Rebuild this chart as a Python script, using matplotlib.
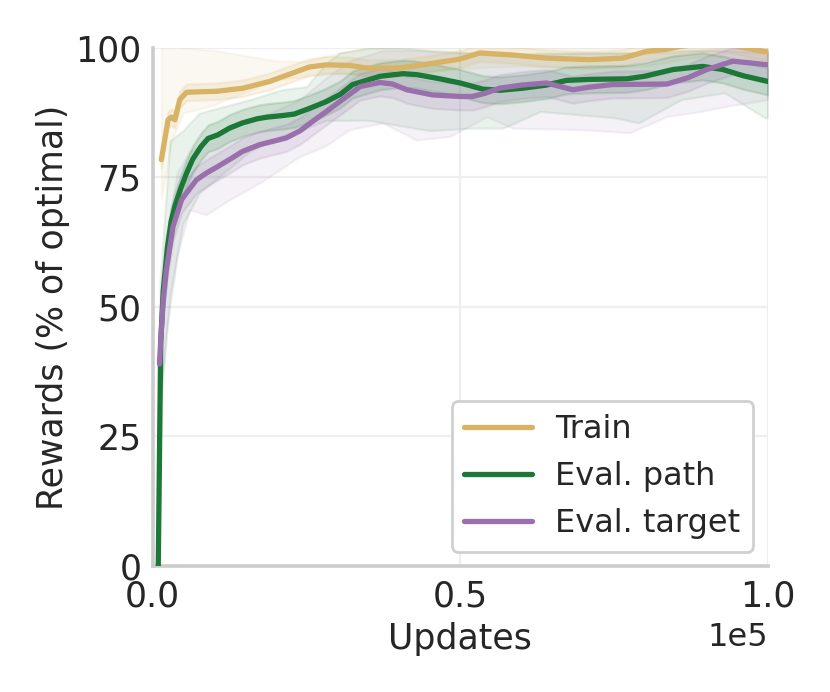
import numpy as np
import matplotlib
matplotlib.use("Agg")
import matplotlib.pyplot as plt
import seaborn as sns

# ---------------- data (x in thousands of updates) ----------------
train_x = [1.4, 2.5, 3.0, 3.6, 4.4, 5.5, 7.5, 10.4, 14.7, 19.0, 23.4, 25.5, 28.2, 32.0,
           34.7, 40.2, 45.5, 49.9, 53.2, 58.5, 64.0, 71.0, 76.4, 80.3, 83.5, 86.0, 90.0,
           94.0, 97.0, 100.0]
train_y = [78.4, 86.1, 86.6, 86.1, 90.0, 91.4, 91.5, 91.6, 92.2, 93.5, 95.4, 96.3, 96.7, 96.6,
           96.1, 96.1, 97.0, 97.8, 99.0, 98.6, 98.0, 97.7, 98.0, 99.3, 99.7, 100.3, 100.8,
           100.6, 99.8, 99.2]

path_x = [0.9, 1.3, 1.7, 2.4, 3.0, 3.6, 4.6, 5.5, 6.5, 7.9, 9.0, 10.6, 12.5, 14.6, 17.0,
          18.5, 21.0, 23.0, 25.5, 28.2, 30.5, 32.5, 35.0, 37.0, 40.7, 43.0, 46.7, 50.0,
          53.7, 56.5, 60.2, 64.0, 67.3, 71.0, 77.1, 80.0, 84.6, 89.4, 92.7, 96.0, 100.0]
path_y = [0.0, 43.0, 53.0, 61.6, 66.5, 69.4, 73.0, 75.8, 78.5, 81.0, 82.5, 83.2, 84.5, 85.5,
          86.3, 86.6, 86.9, 87.2, 88.3, 89.6, 91.0, 92.9, 93.8, 94.5, 95.0, 94.8, 94.0, 93.2,
          92.0, 91.8, 92.2, 92.8, 93.7, 93.9, 94.0, 94.5, 95.8, 96.4, 95.8, 94.6, 93.5]

target_x = [1.1, 1.3, 1.7, 2.2, 3.3, 4.7, 5.5, 7.1, 8.7, 10.6, 13.0, 14.6, 17.4, 21.7, 24.0,
            26.0, 28.0, 30.4, 33.7, 36.9, 39.0, 41.3, 45.5, 49.9, 52.0, 54.0, 56.4, 60.0,
            64.0, 68.3, 71.0, 74.8, 83.6, 87.0, 90.1, 94.3, 97.0, 100.0]
target_y = [39.0, 43.6, 51.0, 57.0, 65.5, 70.7, 72.0, 74.5, 75.8, 77.1, 78.8, 80.0, 81.3, 82.6,
            84.0, 85.8, 87.5, 89.6, 92.5, 93.3, 93.0, 91.9, 90.9, 90.6, 90.6, 91.2, 92.2, 92.8,
            93.2, 91.9, 92.4, 92.9, 93.0, 94.2, 95.8, 97.4, 97.1, 96.7]

# outer (min/max) bands
train_band_x = [1.4, 2.2, 3.0, 5.0, 10.0, 20.0, 25.0, 30.0, 40.0, 50.0, 60.0, 70.0, 80.0, 90.0, 100.0]
train_band_lo = [71.0, 76.0, 82.0, 87.4, 89.0, 93.8, 94.5, 95.0, 95.0, 96.0, 96.5, 96.0, 96.5, 98.5, 97.5]
train_band_hi = [101.0, 101.0, 101.0, 100.0, 99.5, 97.5, 97.3, 99.0, 100.5, 101.0, 101.0, 101.0, 101.0, 102.0, 101.0]

path_band_x = [0.9, 1.2, 2.8, 4.9, 7.6, 15.8, 21.0, 25.0, 28.2, 30.4, 35.0, 40.0, 45.0, 52.0,
               57.0, 63.0, 75.0, 79.0, 86.0, 93.0, 99.5, 100.0]
path_band_lo = [0.0, 30.0, 52.0, 66.0, 72.0, 80.0, 83.0, 84.5, 86.0, 86.0, 86.0, 85.0, 84.0,
                84.5, 84.5, 87.7, 86.5, 85.5, 90.0, 91.3, 86.5, 86.5]
path_band_hi = [0.0, 55.0, 82.0, 84.0, 87.4, 90.0, 91.9, 92.5, 97.0, 99.0, 100.0, 100.0, 99.5,
                99.0, 98.5, 99.0, 99.0, 99.0, 99.5, 99.5, 99.0, 99.0]

target_band_x = [1.1, 2.2, 4.0, 6.0, 8.7, 12.5, 17.4, 23.9, 28.0, 32.0, 37.4, 42.9, 48.3, 54.3,
                 58.5, 69.4, 77.6, 83.5, 89.0, 93.3, 100.0]
target_band_lo = [30.0, 45.0, 60.0, 68.7, 67.8, 70.7, 73.9, 79.0, 81.0, 84.2, 85.5, 82.2, 82.9,
                  86.7, 84.5, 84.2, 83.6, 86.7, 87.7, 88.7, 90.0]
target_band_hi = [45.0, 64.0, 76.0, 80.0, 82.0, 85.0, 86.5, 90.0, 94.0, 97.5, 99.5, 99.5, 99.0,
                  99.0, 98.5, 99.0, 99.0, 99.0, 99.5, 100.0, 99.5]

# inner band half-widths (std-like)
train_sd = 1.6
path_sd = 2.6
target_sd = 2.6

labels = ["Train", "Eval. path", "Eval. target"]
colors = ["#d8b365", "#1b7837", "#9970ab"]

# ---------------- plot ----------------
sns.set_theme(style="whitegrid")
plt.rcParams['font.family'] = ['DejaVu Sans']
FS = 12.5
LFS = 11.5
plt.rcParams['font.size'] = FS

fig = plt.figure(figsize=(4.15, 3.46), dpi=200)
ax = fig.add_axes([0.184, 0.182, 0.741, 0.749])

series = [
    (train_x, train_y, train_band_x, train_band_lo, train_band_hi, train_sd),
    (path_x, path_y, path_band_x, path_band_lo, path_band_hi, path_sd),
    (target_x, target_y, target_band_x, target_band_lo, target_band_hi, target_sd),
]

for (x, y, bx, blo, bhi, sd), c in zip(series, colors):
    x = np.asarray(x) * 1000
    y = np.asarray(y)
    bx = np.asarray(bx) * 1000
    ax.fill_between(bx, blo, bhi, color=c, alpha=0.09, linewidth=0.8,
                    edgecolor=c, zorder=1)
    ax.fill_between(x, y - sd, y + sd, color=c, alpha=0.15, linewidth=0.8,
                    edgecolor=c, zorder=2)

for (x, y, *_), c, lab in zip(series, colors, labels):
    x = np.asarray(x) * 1000
    ax.plot(x, y, color=c, lw=1.9, label=lab, zorder=3,
            solid_capstyle='round', solid_joinstyle='round')

ax.set_xlim(0, 1e5)
ax.set_ylim(0, 100)
ax.set_xticks([0, 5e4, 1e5])
ax.set_yticks([0, 25, 50, 75, 100])
ax.ticklabel_format(axis='x', style='sci', scilimits=(0, 0))
ax.xaxis.get_offset_text().set_fontsize(LFS)
ax.set_xlabel("Updates", fontsize=FS, labelpad=3)
ax.set_ylabel("Rewards (% of optimal)", fontsize=FS, labelpad=2)
ax.tick_params(axis='x', labelsize=FS, pad=5, length=0)
ax.tick_params(axis='y', labelsize=FS, pad=4, length=0)
ax.grid(True, color="#efefef", linewidth=0.8)
for s in ["top", "right"]:
    ax.spines[s].set_visible(False)
for s in ["left", "bottom"]:
    ax.spines[s].set_color("#cccccc")
    ax.spines[s].set_linewidth(1.3)

leg = ax.legend(loc="lower right", fontsize=LFS, frameon=True, fancybox=True,
                handlelength=2.1, borderaxespad=0.45, handletextpad=0.75,
                labelspacing=0.5)
leg.get_frame().set_edgecolor("#d0d0d0")
leg.get_frame().set_linewidth(1.0)
leg.get_frame().set_alpha(1.0)

fig.savefig("out.png", dpi=200)
